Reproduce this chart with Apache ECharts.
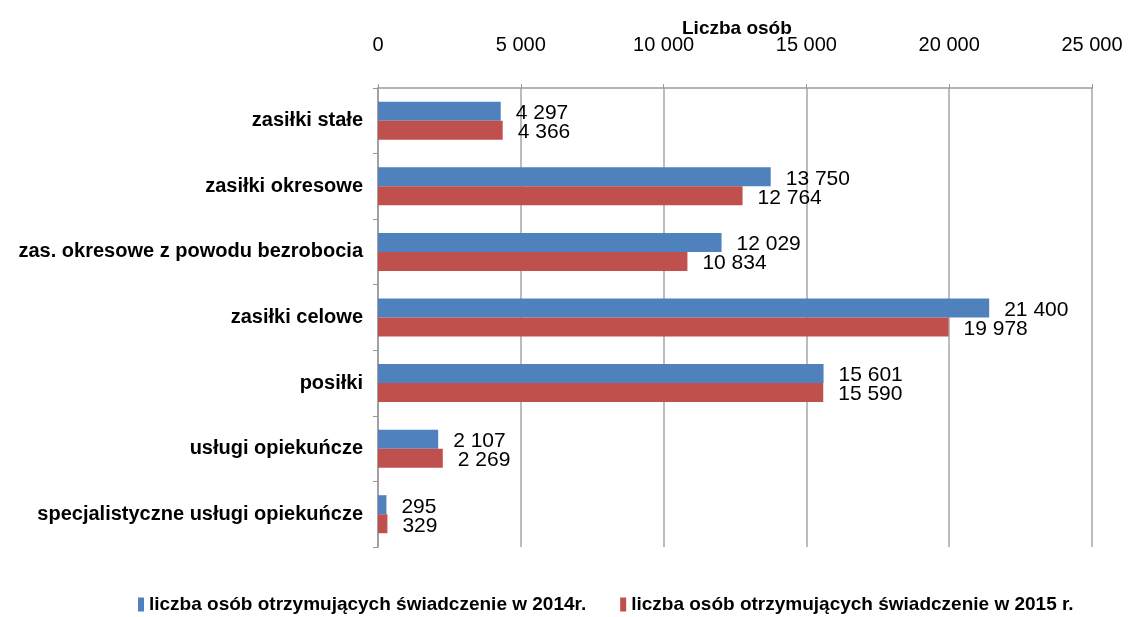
<!DOCTYPE html>
<html>
<head>
<meta charset="utf-8">
<script src="https://cdn.jsdelivr.net/npm/echarts@6/dist/echarts.min.js"></script>
<style>
  html, body { margin: 0; padding: 0; background: #fff; }
  #chart { width: 1130px; height: 617px; }
</style>
</head>
<body>
<div id="chart"></div>
<script>
// dane
const categories = [
  "zasiłki stałe",
  "zasiłki okresowe",
  "zas. okresowe z powodu bezrobocia",
  "zasiłki celowe",
  "posiłki",
  "usługi opiekuńcze",
  "specjalistyczne usługi opiekuńcze"
];
const values2014 = [4297, 13750, 12029, 21400, 15601, 2107, 295];
const values2015 = [4366, 12764, 10834, 19978, 15590, 2269, 329];
const seriesNames = [
  "liczba osób otrzymujących świadczenie w 2014r.",
  "liczba osób otrzymujących świadczenie w 2015 r."
];

const sans = "'Liberation Sans', Arial, sans-serif";

// 12345 -> "12 345"
const fmt = (v) => String(v).replace(/\B(?=(\d{3})+(?!\d))/g, " ");

const myChart = echarts.init(document.getElementById("chart"));

const barLabel = {
  show: true,
  position: "right",
  distance: 15,
  offset: [0, 2],
  color: "#000",
  fontFamily: sans,
  fontSize: 21,
  formatter: (p) => fmt(p.value)
};

myChart.setOption({
  animation: false,
  title: {
    text: "Liczba osób",
    left: 677,
    top: 14,
    textStyle: { fontFamily: sans, fontSize: 19, fontWeight: "bold", color: "#000" }
  },
  grid: { left: 378, right: 38, top: 88, bottom: 70 },
  legend: {
    bottom: -2,
    left: 133,
    itemWidth: 6,
    itemHeight: 14,
    itemGap: 34,
    icon: "rect",
    textStyle: { fontFamily: sans, fontSize: 19, fontWeight: "bold", color: "#000" },
    data: seriesNames
  },
  xAxis: {
    type: "value",
    position: "top",
    min: 0,
    max: 25000,
    interval: 5000,
    axisLine: { show: true, lineStyle: { color: "#999", width: 1.5 } },
    axisTick: { show: true, inside: false, length: 4, lineStyle: { color: "#999" } },
    splitLine: { show: true, lineStyle: { color: "#a6a6a6", width: 1.5 } },
    axisLabel: {
      margin: 33,
      color: "#000",
      fontFamily: sans,
      fontSize: 20,
      formatter: (v) => fmt(v)
    }
  },
  yAxis: {
    type: "category",
    inverse: true,
    data: categories,
    axisLine: { show: true, lineStyle: { color: "#999", width: 1.5 } },
    axisTick: { show: true, length: 5, lineStyle: { color: "#999" } },
    axisLabel: {
      margin: 15,
      color: "#000",
      fontFamily: sans,
      fontSize: 20,
      fontWeight: "bold"
    }
  },
  series: [
    {
      name: seriesNames[0],
      type: "bar",
      data: values2014,
      barGap: "0%",
      barCategoryGap: "42%",
      itemStyle: { color: "#4f81bd" },
      label: barLabel
    },
    {
      name: seriesNames[1],
      type: "bar",
      data: values2015,
      itemStyle: { color: "#c0504d" },
      label: barLabel
    }
  ]
});
</script>
</body>
</html>
